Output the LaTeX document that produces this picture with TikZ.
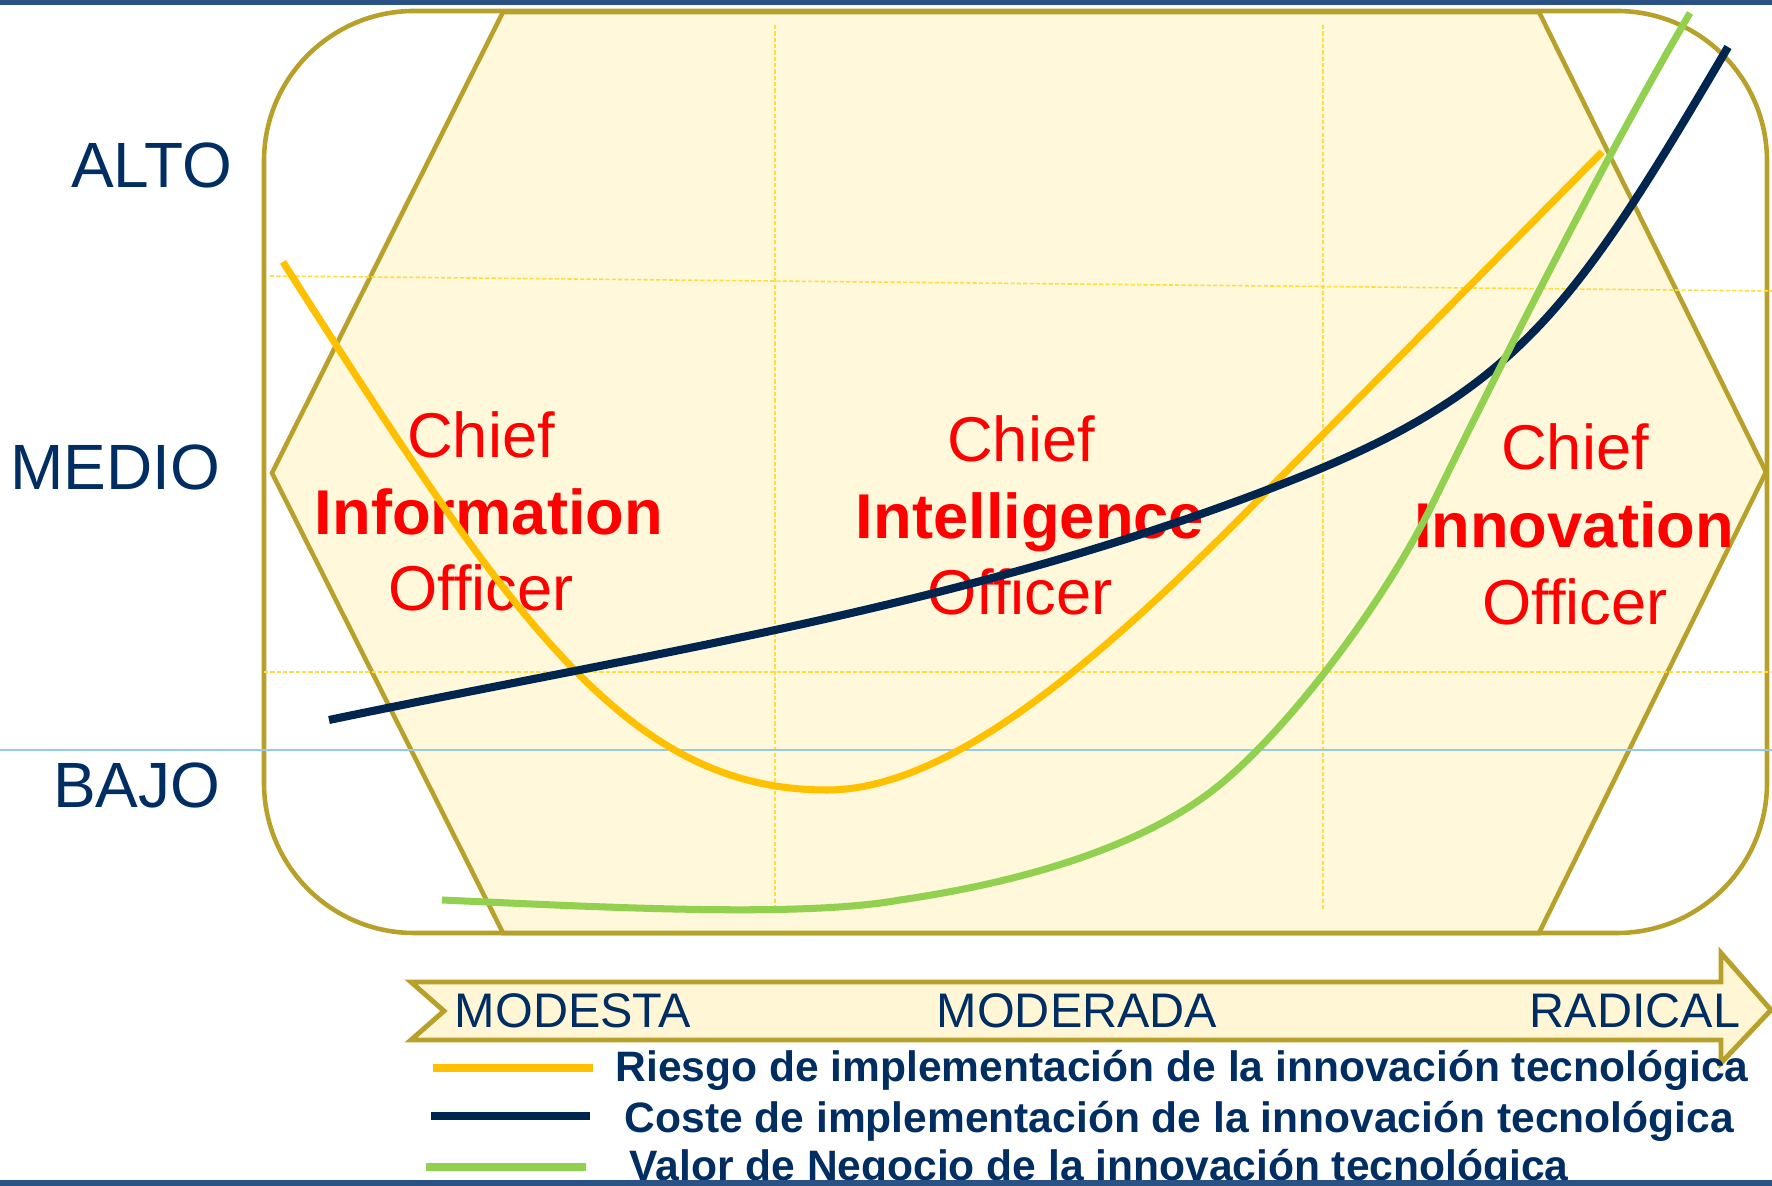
\documentclass[tikz,border=0pt]{standalone}
\usepackage{fontspec}
\setmainfont{Liberation Sans}
\usepackage{tikz}

\definecolor{gold}{RGB}{184,161,42}
\definecolor{hexfill}{RGB}{255,248,218}
\definecolor{bandfill}{RGB}{255,246,214}
\definecolor{navytext}{RGB}{0,45,98}
\definecolor{navyline}{RGB}{0,38,80}
\definecolor{riesgocol}{RGB}{255,192,0}
\definecolor{valorcol}{RGB}{146,208,80}
\definecolor{gridcol}{RGB}{255,222,60}
\definecolor{rulecol}{RGB}{150,200,240}
\definecolor{slidebar}{RGB}{42,82,132}

\tikzset{
  lvl/.style={font=\fontsize{18.2}{20}\selectfont, text=navytext, anchor=base east, inner sep=0},
  chief/.style={font=\fontsize{18}{20}\selectfont, text=red, anchor=base, inner sep=0},
  chiefb/.style={chief, font=\fontsize{18}{20}\selectfont\bfseries},
  grade/.style={font=\fontsize{13.8}{16}\selectfont, text=navytext, anchor=base, inner sep=0},
  key/.style={font=\fontsize{12.1}{14}\selectfont\bfseries, text=navytext, anchor=base west, inner sep=0},
  gridline/.style={draw=gridcol, line width=0.45pt, dash pattern=on 1.2pt off 0.6pt},
  riesgo/.style={draw=riesgocol, line width=2pt},
  coste/.style={draw=navyline, line width=2.3pt},
  valor/.style={draw=valorcol, line width=2pt}
}

\begin{document}
\begin{tikzpicture}[x=0.01cm, y=-0.01cm]
  \useasboundingbox (0,0) rectangle (1772,1186);
  \fill[slidebar] (0,0) rectangle (1772,5);

  \draw[gold, line width=1.3pt, rounded corners=1.5cm] (264,11) rectangle (1767,933);
  \filldraw[fill=hexfill, draw=gold, line width=1.3pt]
    (503,12) -- (1539,12) -- (1766,472) -- (1539,933) -- (503,933) -- (272,473) -- cycle;

  \draw[gridline] (270,276) -- (1772,291);
  \draw[gridline] (264,672) -- (1772,672);
  \draw[gridline] (775,25) -- (775,907);
  \draw[gridline] (1323,25) -- (1323,910);
  \draw[rulecol, line width=0.45pt] (0,750) -- (1772,750);

  \node[lvl] (alto) at (233,188) {ALTO};
  \node[lvl] (medio) at (221,490) {MEDIO};
  \node[lvl] (bajo) at (221,808) {BAJO};

  \node[chief] (infoA) at (481,458) {Chief};
  \node[chiefb] (infoB) at (489,535) {Information};
  \node[chief] (infoC) at (481,611) {Officer};
  \node[chief] (inteA) at (1021,462) {Chief};
  \node[chiefb] (inteB) at (1030,539) {Intelligence};
  \node[chief] (inteC) at (1020,615) {Officer};
  \node[chief] (innoA) at (1575,470) {Chief};
  \node[chiefb] (innoB) at (1574,548) {Innovation};
  \node[chief] (innoC) at (1575,625) {Officer};

  \draw[riesgo] (283,262) .. controls (513,623) and (627,790) .. (827,790)
    .. controls (957,790) and (1117,644) .. (1267,491) -- (1602,152);
  \draw[coste] (329,720) .. controls (649,653) and (980,605) .. (1300,477)
    .. controls (1520,389) and (1578,302) .. (1728,47);
  \draw[valor] (442,900) .. controls (600,907) and (800,918) .. (900,900)
    .. controls (1010,884) and (1137,851) .. (1217,787)
    .. controls (1287,731) and (1383,605) .. (1433,503)
    .. controls (1513,339) and (1610,149) .. (1690,13);

  \filldraw[fill=bandfill, draw=gold, line width=1.4pt]
    (411,982) -- (1721,982) -- (1721,953) -- (1771,1010) -- (1721,1063) -- (1721,1040) -- (411,1040) -- (444,1011) -- cycle;
  \node[grade] (modesta) at (573,1028) {MODESTA};
  \node[grade] (moderada) at (1077,1028) {MODERADA};
  \node[grade] (radical) at (1635,1028) {RADICAL};

  \draw[riesgocol, line width=2.3pt] (433,1068) -- (593,1068);
  \draw[navyline, line width=2.3pt] (431,1116) -- (590,1116);
  \draw[valorcol, line width=2.3pt] (426,1167) -- (586,1167);
  \node[key] (keyriesgo) at (615,1082) {Riesgo de implementación de la innovación tecnológica};
  \node[key] (keycoste) at (624,1133) {Coste de implementación de la innovación tecnológica};
  \node[key] (keyvalor) at (629,1181) {Valor de Negocio de la innovación tecnológica};

  \fill[slidebar] (0,1180) rectangle (1772,1186);
\end{tikzpicture}
\end{document}
